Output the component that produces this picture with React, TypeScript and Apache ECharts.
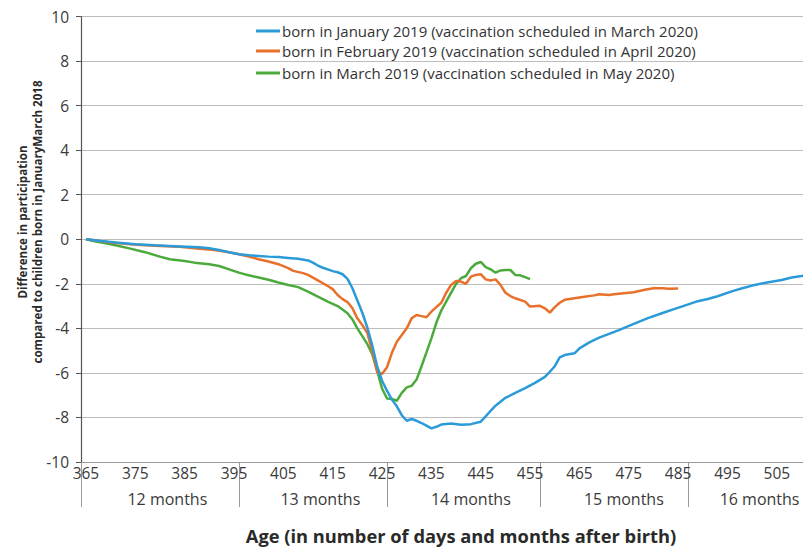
import React, { useEffect, useRef } from 'react';
import * as echarts from 'echarts';

const seriesNames = [
  'born in January 2019 (vaccination scheduled in March 2020)',
  'born in February 2019 (vaccination scheduled in April 2020)',
  'born in March 2019 (vaccination scheduled in May 2020)',
];
const seriesColors = ['#2a9bd8', '#e8702a', '#4caa3c'];

// [age in days, difference in participation]
const januaryData: [number, number][] = [
  [365, 0], [368, -0.08], [371, -0.15], [375, -0.22], [379, -0.27], [384, -0.32], [388, -0.36],
  [390, -0.4], [392, -0.48], [394, -0.58], [396, -0.67], [398, -0.72], [400, -0.75], [402, -0.78],
  [404, -0.8], [406, -0.84], [408, -0.88], [410, -0.95], [411, -1.05], [412, -1.18], [413, -1.28],
  [414, -1.35], [415, -1.43], [416, -1.48], [417, -1.57], [418, -1.78], [419, -2.2], [420, -2.75],
  [421, -3.3], [422, -3.95], [423, -4.75], [424, -5.7], [425, -6.35], [426, -6.8], [427, -7.2],
  [428, -7.5], [429, -7.9], [430, -8.15], [431, -8.07], [432, -8.15], [433, -8.25], [434, -8.37],
  [435, -8.49], [436, -8.42], [437, -8.32], [439, -8.27], [441, -8.33], [443, -8.3], [445, -8.19],
  [446, -7.95], [447, -7.7], [448, -7.47], [450, -7.12], [452, -6.9], [454, -6.68], [456, -6.45],
  [458, -6.18], [459, -5.95], [460, -5.7], [461, -5.3], [462, -5.2], [464, -5.12], [465, -4.9],
  [467, -4.63], [469, -4.42], [471, -4.25], [473, -4.08], [476, -3.8], [479, -3.53], [482, -3.3],
  [484, -3.15], [486, -3.0], [489, -2.78], [491, -2.68], [493, -2.56], [496, -2.33], [498, -2.2],
  [500, -2.08], [503, -1.94], [506, -1.83], [508, -1.72], [510, -1.65], [511, -1.6],
];

const februaryData: [number, number][] = [
  [365, 0], [367, -0.05], [370, -0.15], [374, -0.22], [377, -0.27], [380, -0.3], [384, -0.34],
  [387, -0.4], [391, -0.48], [394, -0.58], [396, -0.67], [398, -0.78], [400, -0.9], [402, -1.0],
  [404, -1.12], [406, -1.3], [407, -1.42], [409, -1.52], [410, -1.6], [412, -1.85], [414, -2.1],
  [415, -2.24], [416, -2.5], [417, -2.69], [418, -2.82], [419, -3.1], [420, -3.55], [421, -3.85],
  [422, -4.2], [423, -5.0], [424, -5.95], [425, -6.05], [426, -5.75], [427, -5.1], [428, -4.6],
  [429, -4.3], [430, -4.0], [431, -3.55], [432, -3.4], [433, -3.45], [434, -3.5], [435, -3.25],
  [436, -3.05], [437, -2.85], [438, -2.4], [439, -2.05], [440, -1.87], [441, -1.9], [442, -2.0],
  [443, -1.68], [444, -1.6], [445, -1.57], [446, -1.8], [447, -1.85], [448, -1.8], [449, -2.05],
  [450, -2.4], [451, -2.55], [452, -2.65], [454, -2.8], [455, -3.02], [457, -2.99], [458, -3.1],
  [459, -3.29], [460, -3.05], [461, -2.85], [462, -2.72], [464, -2.65], [466, -2.58], [468, -2.52],
  [469, -2.47], [471, -2.5], [472, -2.47], [474, -2.42], [476, -2.38], [478, -2.28], [480, -2.2],
  [482, -2.2], [483, -2.22], [485, -2.21],
];

const marchData: [number, number][] = [
  [365, 0], [367, -0.1], [369, -0.18], [371, -0.27], [374, -0.42], [377, -0.58], [380, -0.78],
  [382, -0.9], [385, -0.98], [387, -1.05], [390, -1.12], [392, -1.2], [394, -1.35], [396, -1.5],
  [398, -1.62], [400, -1.72], [402, -1.82], [404, -1.94], [406, -2.05], [408, -2.15], [410, -2.35],
  [412, -2.58], [414, -2.8], [415, -2.9], [416, -3.0], [417, -3.15], [418, -3.32], [419, -3.6],
  [420, -4.0], [421, -4.35], [422, -4.7], [423, -5.15], [424, -5.9], [425, -6.7], [426, -7.15],
  [427, -7.17], [428, -7.25], [429, -6.9], [430, -6.65], [431, -6.58], [432, -6.3], [433, -5.7],
  [434, -5.08], [435, -4.45], [436, -3.75], [437, -3.2], [438, -2.8], [439, -2.4], [440, -2.0],
  [441, -1.75], [442, -1.65], [443, -1.3], [444, -1.1], [445, -1.02], [446, -1.25], [447, -1.35],
  [448, -1.5], [449, -1.4], [450, -1.38], [451, -1.38], [452, -1.6], [453, -1.62], [454, -1.7],
  [455, -1.79],
];

const dayTickValues = [365, 375, 385, 395, 405, 415, 425, 435, 445, 455, 465, 475, 485, 495, 505];
const monthBoundaries = [364, 396, 426, 457, 487];
const monthLabelDays = [381.5, 412.5, 443, 474, 501.5];
const monthLabels = ['12 months', '13 months', '14 months', '15 months', '16 months'];

const X_MIN = 364;
const X_MAX = 510.3;
const FONT = '"Open Sans", sans-serif';

export default function App() {
  const ref = useRef<HTMLDivElement>(null);
  useEffect(() => {
    if (!ref.current) return;
    const chart = echarts.init(ref.current, undefined, { renderer: 'svg' });
    const allData = [januaryData, februaryData, marchData];
    const legendTops = [21, 41, 63];
    chart.setOption({
      animation: false,
      textStyle: { fontFamily: FONT },
      grid: { left: 81, right: 0, top: 16.5, bottom: 86 },
      legend: seriesNames.map((n, i) => ({
        data: [n],
        left: 251,
        top: legendTops[i],
        padding: [0, 5, 0, 5],
        icon: 'rect',
        itemWidth: 24,
        itemHeight: 3,
        itemGap: 0,
        textStyle: { color: '#333', fontSize: 15, lineHeight: 20, fontFamily: FONT, padding: [0, 0, 0, -3] },
        selectedMode: false,
      })),
      xAxis: [
        {
          type: 'value',
          min: X_MIN,
          max: X_MAX,
          axisLine: { show: true, onZero: false, lineStyle: { color: '#9a9a9a', width: 1 } },
          axisTick: { show: false },
          splitLine: { show: false },
          axisLabel: {
            customValues: dayTickValues,
            color: '#3a3a3a',
            fontSize: 15.5,
            margin: 3,
            fontFamily: FONT,
          },
        },
        {
          type: 'value',
          position: 'bottom',
          min: X_MIN,
          max: X_MAX,
          axisLine: { show: false, onZero: false },
          splitLine: { show: false },
          axisTick: {
            show: true,
            customValues: monthBoundaries,
            length: 45,
            inside: false,
            lineStyle: { color: '#9a9a9a', width: 1 },
          },
          axisLabel: {
            customValues: monthLabelDays,
            color: '#3a3a3a',
            fontSize: 16,
            margin: 29,
            fontFamily: FONT,
            formatter: (v: number) => {
              let best = 0;
              monthLabelDays.forEach((d, i) => {
                if (Math.abs(d - v) < Math.abs(monthLabelDays[best] - v)) best = i;
              });
              return monthLabels[best];
            },
          },
        },
      ],
      yAxis: {
        type: 'value',
        min: -10,
        max: 10,
        interval: 2,
        axisLine: { show: true, onZero: false, lineStyle: { color: '#555', width: 1.2 } },
        axisTick: { show: true, length: 5, lineStyle: { color: '#555' } },
        splitLine: { show: true, lineStyle: { color: '#bdbdbd', width: 1.2 } },
        axisLabel: { color: '#3a3a3a', fontSize: 15.5, margin: 12, fontFamily: FONT },
      },
      graphic: [
        {
          type: 'text',
          x: 30,
          y: 222,
          rotation: Math.PI / 2,
          style: {
            text: 'Difference in participation\ncompared to children born in JanuaryMarch 2018',
            fill: '#2a2a2a',
            font: `bold 11.6px ${FONT}`,
            align: 'center',
            verticalAlign: 'middle',
            lineHeight: 15,
          },
        },
        {
          type: 'text',
          x: 461,
          y: 535,
          style: {
            text: 'Age (in number of days and months after birth)',
            fill: '#2a2a2a',
            font: `bold 18.3px ${FONT}`,
            align: 'center',
            verticalAlign: 'middle',
          },
        },
      ],
      series: allData.map((d, i) => ({
        name: seriesNames[i],
        type: 'line',
        data: d,
        showSymbol: false,
        symbol: 'none',
        color: seriesColors[i],
        lineStyle: { width: 2.5, color: seriesColors[i] },
        z: 3 - i,
      })),
    });
    return () => chart.dispose();
  }, []);
  return (
    <div
      ref={ref}
      style={{ position: 'fixed', left: 0, top: 0, width: 803, height: 548, background: '#fff' }}
    />
  );
}
